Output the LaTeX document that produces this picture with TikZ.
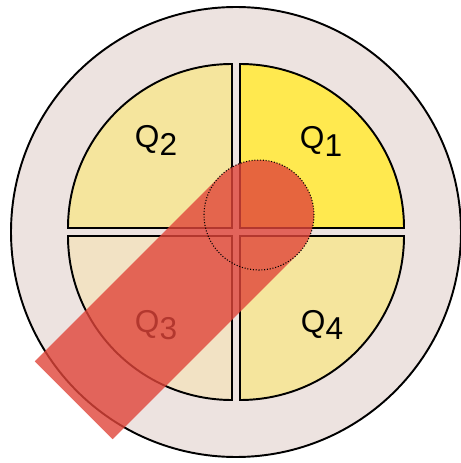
\documentclass[tikz,border=0pt]{standalone}
\usepackage{fontspec}
\setmainfont{Liberation Sans}
\definecolor{ringgray}{HTML}{EDE3E0}
\definecolor{qyellow}{HTML}{FFE94F}
\definecolor{qpale}{HTML}{F5E59D}
\definecolor{qbeige}{HTML}{F2E2C4}
\definecolor{beamred}{HTML}{E0453A}
\tikzset{
  quad/.style={draw=black, line width=1.1pt},
  qlabel/.style={anchor=base, inner sep=0pt, font=\fontsize{18}{20}\selectfont}
}
\newcommand{\qname}[1]{Q\raisebox{-4pt}{#1}}
\begin{document}
\begin{tikzpicture}[x=0.02cm, y=0.02cm]
            \useasboundingbox (-236,-231) rectangle (224,232);
            % outer ring
            \draw[line width=1.1pt, fill=ringgray] (0,0) circle[radius=225];
            % quadrants
            \draw[quad, fill=qyellow] (4,4) -- (168,4) arc[start angle=0, end angle=90, radius=164] -- cycle;
            \draw[quad, fill=qpale] (-4,4) -- (-4,168) arc[start angle=90, end angle=180, radius=164] -- cycle;
            \draw[quad, fill=qbeige] (-4,-4) -- (-168,-4) arc[start angle=180, end angle=270, radius=164] -- cycle;
            \draw[quad, fill=qpale] (4,-4) -- (4,-168) arc[start angle=270, end angle=360, radius=164] -- cycle;
            \node[qlabel] (q1) at (85,83) {\qname{1}};
            \node[qlabel] (q2) at (-80,84) {\qname{2}};
            \node[qlabel] (q3) at (-80,-100) {\qname{3}};
            \node[qlabel] (q4) at (86,-100) {\qname{4}};
            % beam and spot
            \coordinate (spot) at (23,17);
            \begin{scope}[shift={(spot)}, rotate=45]
              \fill[beamred, opacity=0.8] (0,-55) -- (-262,-55) -- (-262,55) -- (0,55) arc[start angle=90, end angle=-90, radius=55] -- cycle;
            \end{scope}
            \draw[densely dotted, line width=0.6pt] (spot) circle[radius=55];
        \end{tikzpicture}
\end{document}
